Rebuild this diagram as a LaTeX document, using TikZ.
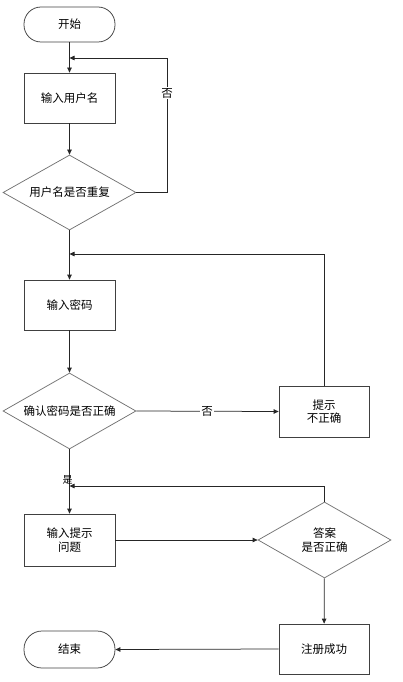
\documentclass[tikz,border=0pt]{standalone}
\usepackage{fontspec}
\setmainfont{Noto Sans CJK SC}
\usepackage{tikz}
\usetikzlibrary{shapes.geometric, arrows.meta}

\tikzset{
  terminal/.style={draw=black!75, rounded corners=17pt, minimum width=91pt, minimum height=35pt},
  process/.style={draw=black!75, minimum width=91pt, minimum height=50pt, align=center},
  decision/.style={draw=black!55, diamond, aspect=1.77, minimum width=133pt, minimum height=75pt, inner sep=0pt, align=center},
  flow/.style={draw=black!85, -{Triangle[length=5pt,width=4.5pt]}},
  tag/.style={fill=white, inner sep=1pt},
}

\begin{document}
\begin{tikzpicture}[x=1pt, y=-1pt, font=\fontsize{11.5}{13.5}\selectfont, line width=0.75pt]
    \useasboundingbox (0,0) rectangle (403,682);

    % The boxes
    \node[terminal] (start) at (69.5, 24.5) {开始};
    \node[process] (uname) at (69.5, 98) {输入用户名};
    \node[decision] (check1) at (69.5, 192.5) {用户名是否重复};
    \node[process] (pwd) at (69.5, 305) {输入密码};
    \node[decision, minimum height=76pt] (check2) at (69.5, 411) {确认密码是否正确};
    \node[process, minimum width=90pt, minimum height=51pt] (hint) at (324, 411.5) {提示\\不正确};
    \node[process, minimum height=52pt] (prompt) at (69.5, 540) {输入提示\\问题};
    \node[decision, minimum height=76pt] (answer) at (324.5, 540) {答案\\是否正确};
    \node[process, minimum width=90pt] (success) at (324, 649) {注册成功};
    \node[terminal, minimum height=37pt, rounded corners=18pt] (finish) at (69.5, 649.5) {结束};

    % Loop corners
    \coordinate (j1) at (69.5, 58);
    \coordinate (c1) at (167, 58);
    \coordinate (j2) at (69.5, 254);
    \coordinate (j3) at (69.5, 486);

    % The arrows
    \draw[flow] (start) -- (uname);
    \draw[flow] (uname) -- (check1);
    \draw[flow] (check1.east) -- (check1.east -| c1) -- (c1) -- (j1);
    \draw[flow] (check1) -- (pwd);
    \draw[flow] (pwd) -- (check2);
    \draw[flow] (check2.east) -- (hint.west);
    \draw[flow] (hint.north) -- (hint.north |- j2) -- (j2);
    \draw[flow] (check2) -- (prompt);
    \draw[flow] (prompt.east) -- (answer.west);
    \draw[flow] (answer.north) -- (answer.north |- j3) -- (j3);
    \draw[flow] (answer) -- (success);
    \draw[flow] (success.west) -- (finish.east);

    % The labels
    \node[tag] (no1) at (167, 93) {否};
    \node[tag] (no2) at (207, 411) {否};
    \node[inner sep=0pt, font=\fontsize{10}{12}\selectfont] (yes) at (67.5, 480) {是};
\end{tikzpicture}
\end{document}
